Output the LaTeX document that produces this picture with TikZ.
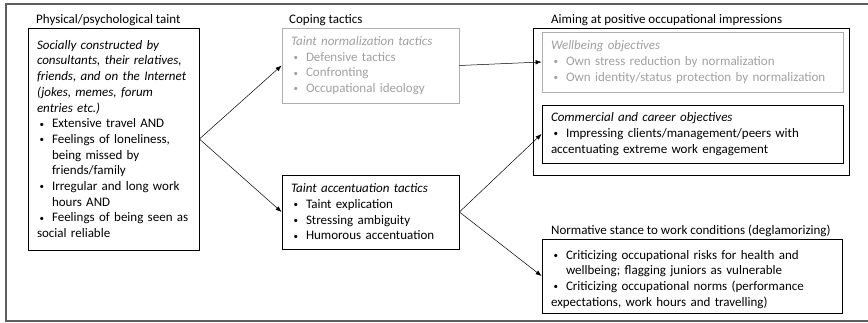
\documentclass[tikz,border=0pt]{standalone}
\usepackage{fontspec}
\setmainfont{Carlito}
\usepackage{tikz}
\usetikzlibrary{arrows.meta}

\definecolor{lightline}{RGB}{175,175,175}
\definecolor{lighttext}{RGB}{160,160,160}
\definecolor{framegray}{RGB}{95,95,95}

\setlength{\parindent}{0pt}
\newcommand{\itm}[1]{\par\noindent\hangindent=15pt\hangafter=1\makebox[15pt][l]{\hspace{2.5pt}\raisebox{0.6pt}{\fontsize{9}{9}\selectfont\textbullet}}#1}

\begin{document}
\begin{tikzpicture}[x=1pt, y=-1pt,
        box/.style={draw=black, line width=0.8pt, inner xsep=9pt, inner ysep=0pt, align=left, font=\fontsize{13}{15.7}\selectfont},
        greybox/.style={box, draw=lightline, text=lighttext},
        title/.style={anchor=west, inner sep=0pt, font=\fontsize{13}{15.7}\selectfont},
        >={Latex[length=6pt,width=4.5pt]}]
        \useasboundingbox (0,0) rectangle (868,322);

        % frame
        \draw[framegray, line width=1.6pt] (6,4) rectangle (880,321);

        % titles
        \node (ttaint) at (36,20) [title] {Physical/psychological taint};
        \node (tcope) at (289,20) [title] {Coping tactics};
        \node (taim) at (551,20) [title] {Aiming at positive occupational impressions};
        \node (tstance) at (551,231) [title] {Normative stance to work conditions (deglamorizing)};

        % taint
        \node (taint) at (113.5,139) [box, text width=153pt, minimum height=222pt] {%
            \noindent{\itshape Socially constructed by\newline consultants, their relatives,\newline friends, and on the Internet\newline (jokes, memes, forum\newline entries etc.)}
            \itm{Extensive travel AND}
            \itm{Feelings of loneliness,\newline being missed by\newline friends/family}
            \itm{Irregular and long work\newline hours AND}
            \itm{Feelings of being seen as\newline social reliable}};

        % coping tactics
        \node (norm) at (370.5,65.5) [greybox, text width=159pt, minimum height=75pt] {%
            \noindent{\itshape Taint normalization tactics}
            \itm{Defensive tactics}
            \itm{Confronting}
            \itm{Occupational ideology}};
        \node (acc) at (370.5,212) [box, text width=159pt, minimum height=74pt] {%
            \noindent{\itshape Taint accentuation tactics}
            \itm{Taint explication}
            \itm{Stressing ambiguity}
            \itm{Humorous accentuation}};

        % impressions
        \node (aim) at (691,101.5) [draw=black, line width=0.8pt, minimum width=316pt, minimum height=147pt] {};
        \node (well) at (692.5,62) [greybox, text width=283pt, minimum height=60pt] {%
            \noindent{\itshape Wellbeing objectives}
            \itm{Own stress reduction by normalization}
            \itm{Own identity/status protection by normalization}};
        \node (comm) at (692.5,134) [box, text width=283pt, minimum height=58pt] {%
            \noindent{\itshape Commercial and career objectives}
            \itm{Impressing clients/management/peers with\newline accentuating extreme work engagement}};

        % normative stance
        \node (stance) at (692,276) [box, text width=282pt, minimum height=74pt] {%
            \itm{Criticizing occupational risks for health and\newline wellbeing; flagging juniors as vulnerable}
            \itm{Criticizing occupational norms (performance\newline expectations, work hours and travelling)}};

        % connections
        \draw[->, line width=0.5pt] (taint.east) -- (norm.west);
        \draw[->, line width=0.5pt] (taint.east) -- (acc.west);
        \draw[->, line width=0.5pt] (norm.east) -- (well.west);
        \draw[->, line width=0.5pt] (acc.east) -- (comm.west);
        \draw[->, line width=0.5pt] (acc.east) -- (stance.west);
\end{tikzpicture}
\end{document}
